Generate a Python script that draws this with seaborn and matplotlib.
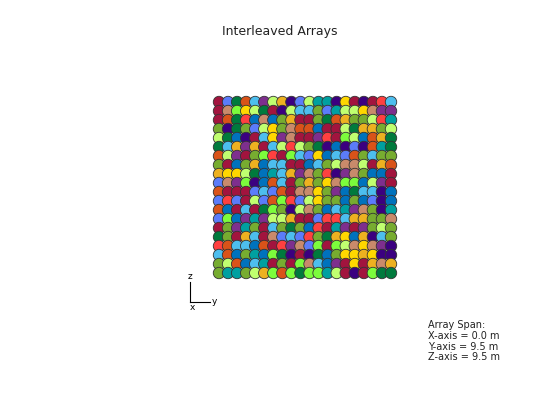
import pandas as pd
import matplotlib.pyplot as plt
import seaborn as sns

# colour codes for each element, top row first, left to right
PALETA = {
    'M': '#A2143E', 'W': '#5B7CFA', 'S': '#C98A6B', 'O': '#D95319',
    'L': '#4DBEEE', 'P': '#7E2F8E', 'K': '#C0FF70', 'Y': '#EDB120',
    'I': '#3B0080', 'B': '#0072BD', 'G': '#77AC30', 'E': '#007A3D',
    'R': '#FF4040', 'F': '#7CFC3C', 'U': '#FFD700', 'T': '#00A0A0',
}
LINHAS = [
    "MWEOLPKYIWKTTIUMIMRL",
    "MSFUKEMIKLLGWTKKUSPP",
    "MOERBSBGYMMGEOYGGKRT",
    "GIEGWKUGSOOBMMKEYYGK",
    "KEBIMLUPSMMPRMFKBOYE",
    "ELYPYMLKRKGEIBIWIOTE",
    "OKPMGFRMFLWUBLWOGLGG",
    "GMBGYBLLMMBLGKSSKMYO",
    "YUUKEBTLYPSGRIPSGBBM",
    "WSPFIBOLMGYGUSFFBKPM",
    "OMMMWLWOMSSUGPBELLIB",
    "WRWMKWOFRWKUGGBGBWIB",
    "OBMLMEFGIKSGBLTPSGIT",
    "WFBPTPKKYMMWRRLYYGGS",
    "MGPTGMLGEGBRMTPMPGKG",
    "EGMYLMSWLWRGEYUBYILG",
    "ROLLBOMRPSWFMFKSUSPI",
    "LOBGTBFEIMIEBGUUYUII",
    "GKOBLTMGMFSLBPMUMYSY",
    "GTTGKYFOFEFFTKMIMFEE",
]
ESPACAMENTO = 0.5  # m
SPAN_TEXTO = ["Array Span:", "X-axis = 0.0 m", "Y-axis = 9.5 m", "Z-axis = 9.5 m"]

linhas = []
for i, linha in enumerate(LINHAS):
    for j, c in enumerate(linha):
        linhas.append({'y': j * ESPACAMENTO, 'z': (len(LINHAS) - 1 - i) * ESPACAMENTO, 'cor': c})
df = pd.DataFrame(linhas)

fig = plt.figure(figsize=(5.6, 4.2), dpi=100)
ax = fig.add_axes([219 / 560, 1 - 273 / 420, (391 - 219) / 560, (273 - 102) / 420])
sns.scatterplot(data=df, x='y', y='z', hue='cor', palette=PALETA, legend=False,
                s=68, edgecolor='#333333', linewidth=0.6, ax=ax, clip_on=False)
ax.set_xlim(0, 9.5)
ax.set_ylim(0, 9.5)
ax.axis('off')

fig.text(280 / 560, 1 - 32 / 420, "Interleaved Arrays", ha='center', va='center', fontsize=9, color='#222222')

# small orientation triad
ox, oy = 190 / 560, 1 - 302 / 420
fig.add_artist(plt.Line2D([ox, ox], [oy, oy + 20 / 420], color='black', lw=0.8))
fig.add_artist(plt.Line2D([ox, ox + 20 / 560], [oy, oy], color='black', lw=0.8))
fig.text(ox, oy + 21 / 420, 'z', fontsize=6.5, ha='center', va='bottom')
fig.text(ox + 22 / 560, oy, 'y', fontsize=6.5, ha='left', va='center')
fig.text(ox + 2 / 560, oy - 1 / 420, 'x', fontsize=6.5, ha='center', va='top')

fig.text(428 / 560, 1 - 320 / 420, "\n".join(SPAN_TEXTO), ha='left', va='top',
         fontsize=7, color='#222222', linespacing=1.1)

plt.savefig('out.png', dpi=100)
plt.close()
